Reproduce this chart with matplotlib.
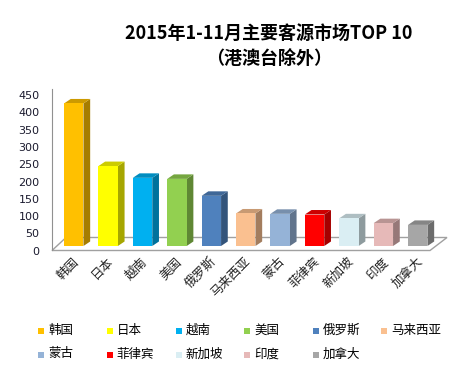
import matplotlib.pyplot as plt
from matplotlib.patches import Polygon, Rectangle
from matplotlib.transforms import ScaledTranslation
import numpy as np

plt.rcParams['font.family'] = ['Noto Sans CJK SC', 'DejaVu Sans']

countries = ['韩国', '日本', '越南', '美国', '俄罗斯', '马来西亚',
             '蒙古', '菲律宾', '新加坡', '印度', '加拿大']
visitors = [412, 231, 197, 194, 145, 94, 93, 91, 80, 66, 61]
colors = ['#FFC000', '#FFFF00', '#00B0F0', '#92D050', '#4F81BD', '#FAC090',
          '#95B3D7', '#FF0000', '#DAEEF3', '#E6B9B8', '#A6A6A6']
yticks = [0, 50, 100, 150, 200, 250, 300, 350, 400, 450]


def shade(c, f):
    r, g, b = plt.matplotlib.colors.to_rgb(c)
    return (r * f, g * f, b * f)


W, H = 475, 371
fig = plt.figure(figsize=(W / 100, H / 100), dpi=100)

# axes placed in pixel terms: y-axis at x=52, value 0 at y=246, 450 at y=90
px_unit = 34.4          # pixels per category
py_unit = 0.346         # pixels per value unit
x0_px, y0_px = 52, 246
x_first = 73.75
xmin = (x0_px - x_first) / px_unit
xmax = (447 - x_first) / px_unit
top_px = y0_px - 450 * py_unit
ax = fig.add_axes([x0_px / W, 1 - y0_px / H, (447 - x0_px) / W, (y0_px - top_px) / H])
ax.set_xlim(xmin, xmax)
ax.set_ylim(0, 450)

x = np.arange(len(countries))
bw = 0.565
dx = 6.7 / px_unit
dy = 4.5 / py_unit

# floor
def to_data(px, py):
    return ((px - x_first) / px_unit, (y0_px - py) / py_unit)

floor = [to_data(52, 250.5), to_data(430, 250.5), to_data(447, 237.5), to_data(66, 237.5)]
ax.add_patch(Polygon(floor, closed=True, facecolor='white', edgecolor='#a0a0a0',
                     lw=1.0, clip_on=False, zorder=1))

bars = ax.bar(x, visitors, width=bw, color=colors, zorder=3)
for xi, h, c in zip(x, visitors, colors):
    xl, xr = xi - bw / 2, xi + bw / 2
    side = [(xr, 0), (xr + dx, dy), (xr + dx, h + dy), (xr, h)]
    topf = [(xl, h), (xr, h), (xr + dx, h + dy), (xl + dx, h + dy)]
    ax.add_patch(Polygon(side, closed=True, facecolor=shade(c, 0.65), lw=0, zorder=2, clip_on=False))
    ax.add_patch(Polygon(topf, closed=True, facecolor=shade(c, 0.8), lw=0, zorder=2, clip_on=False))

for s in ['top', 'right', 'bottom']:
    ax.spines[s].set_visible(False)
ax.spines['left'].set_color('#909090')
ax.spines['left'].set_bounds(-13, 455)
ax.set_yticks(yticks)
ax.tick_params(axis='y', length=0, pad=9, labelsize=8, labelcolor='#1a1a2e')
for lab in ax.get_yticklabels():
    lab.set_family('DejaVu Sans')
    lab.set_transform(lab.get_transform() + ScaledTranslation(0, -4.7 / 100, fig.dpi_scale_trans))
ax.set_xticks([])

for xi, name in zip(x, countries):
    ax.text(xi - 0.05, -26, name, rotation=45, rotation_mode='anchor',
            ha='right', va='top', fontsize=9, color='#222222', clip_on=False)

fig.text(269 / W, 1 - 33 / H, '2015年1-11月主要客源市场TOP 10', ha='center', va='center',
         fontsize=13, fontweight='bold')
fig.text(269 / W, 1 - 58 / H, '（港澳台除外）', ha='center', va='center',
         fontsize=13, fontweight='bold')

# legend
for i, (name, c) in enumerate(zip(countries, colors)):
    col, row = i % 6, i // 6
    lx = 38.3 + col * 68.6
    ly = 331.3 + row * 23.7
    fig.add_artist(Rectangle((lx / W, 1 - (ly + 3) / H), 6 / W, 6 / H,
                             transform=fig.transFigure, facecolor=c, lw=0))
    fig.text((lx + 10) / W, 1 - (ly - 1) / H, name, ha='left', va='center', fontsize=9)

fig.savefig('out.png', dpi=100)
